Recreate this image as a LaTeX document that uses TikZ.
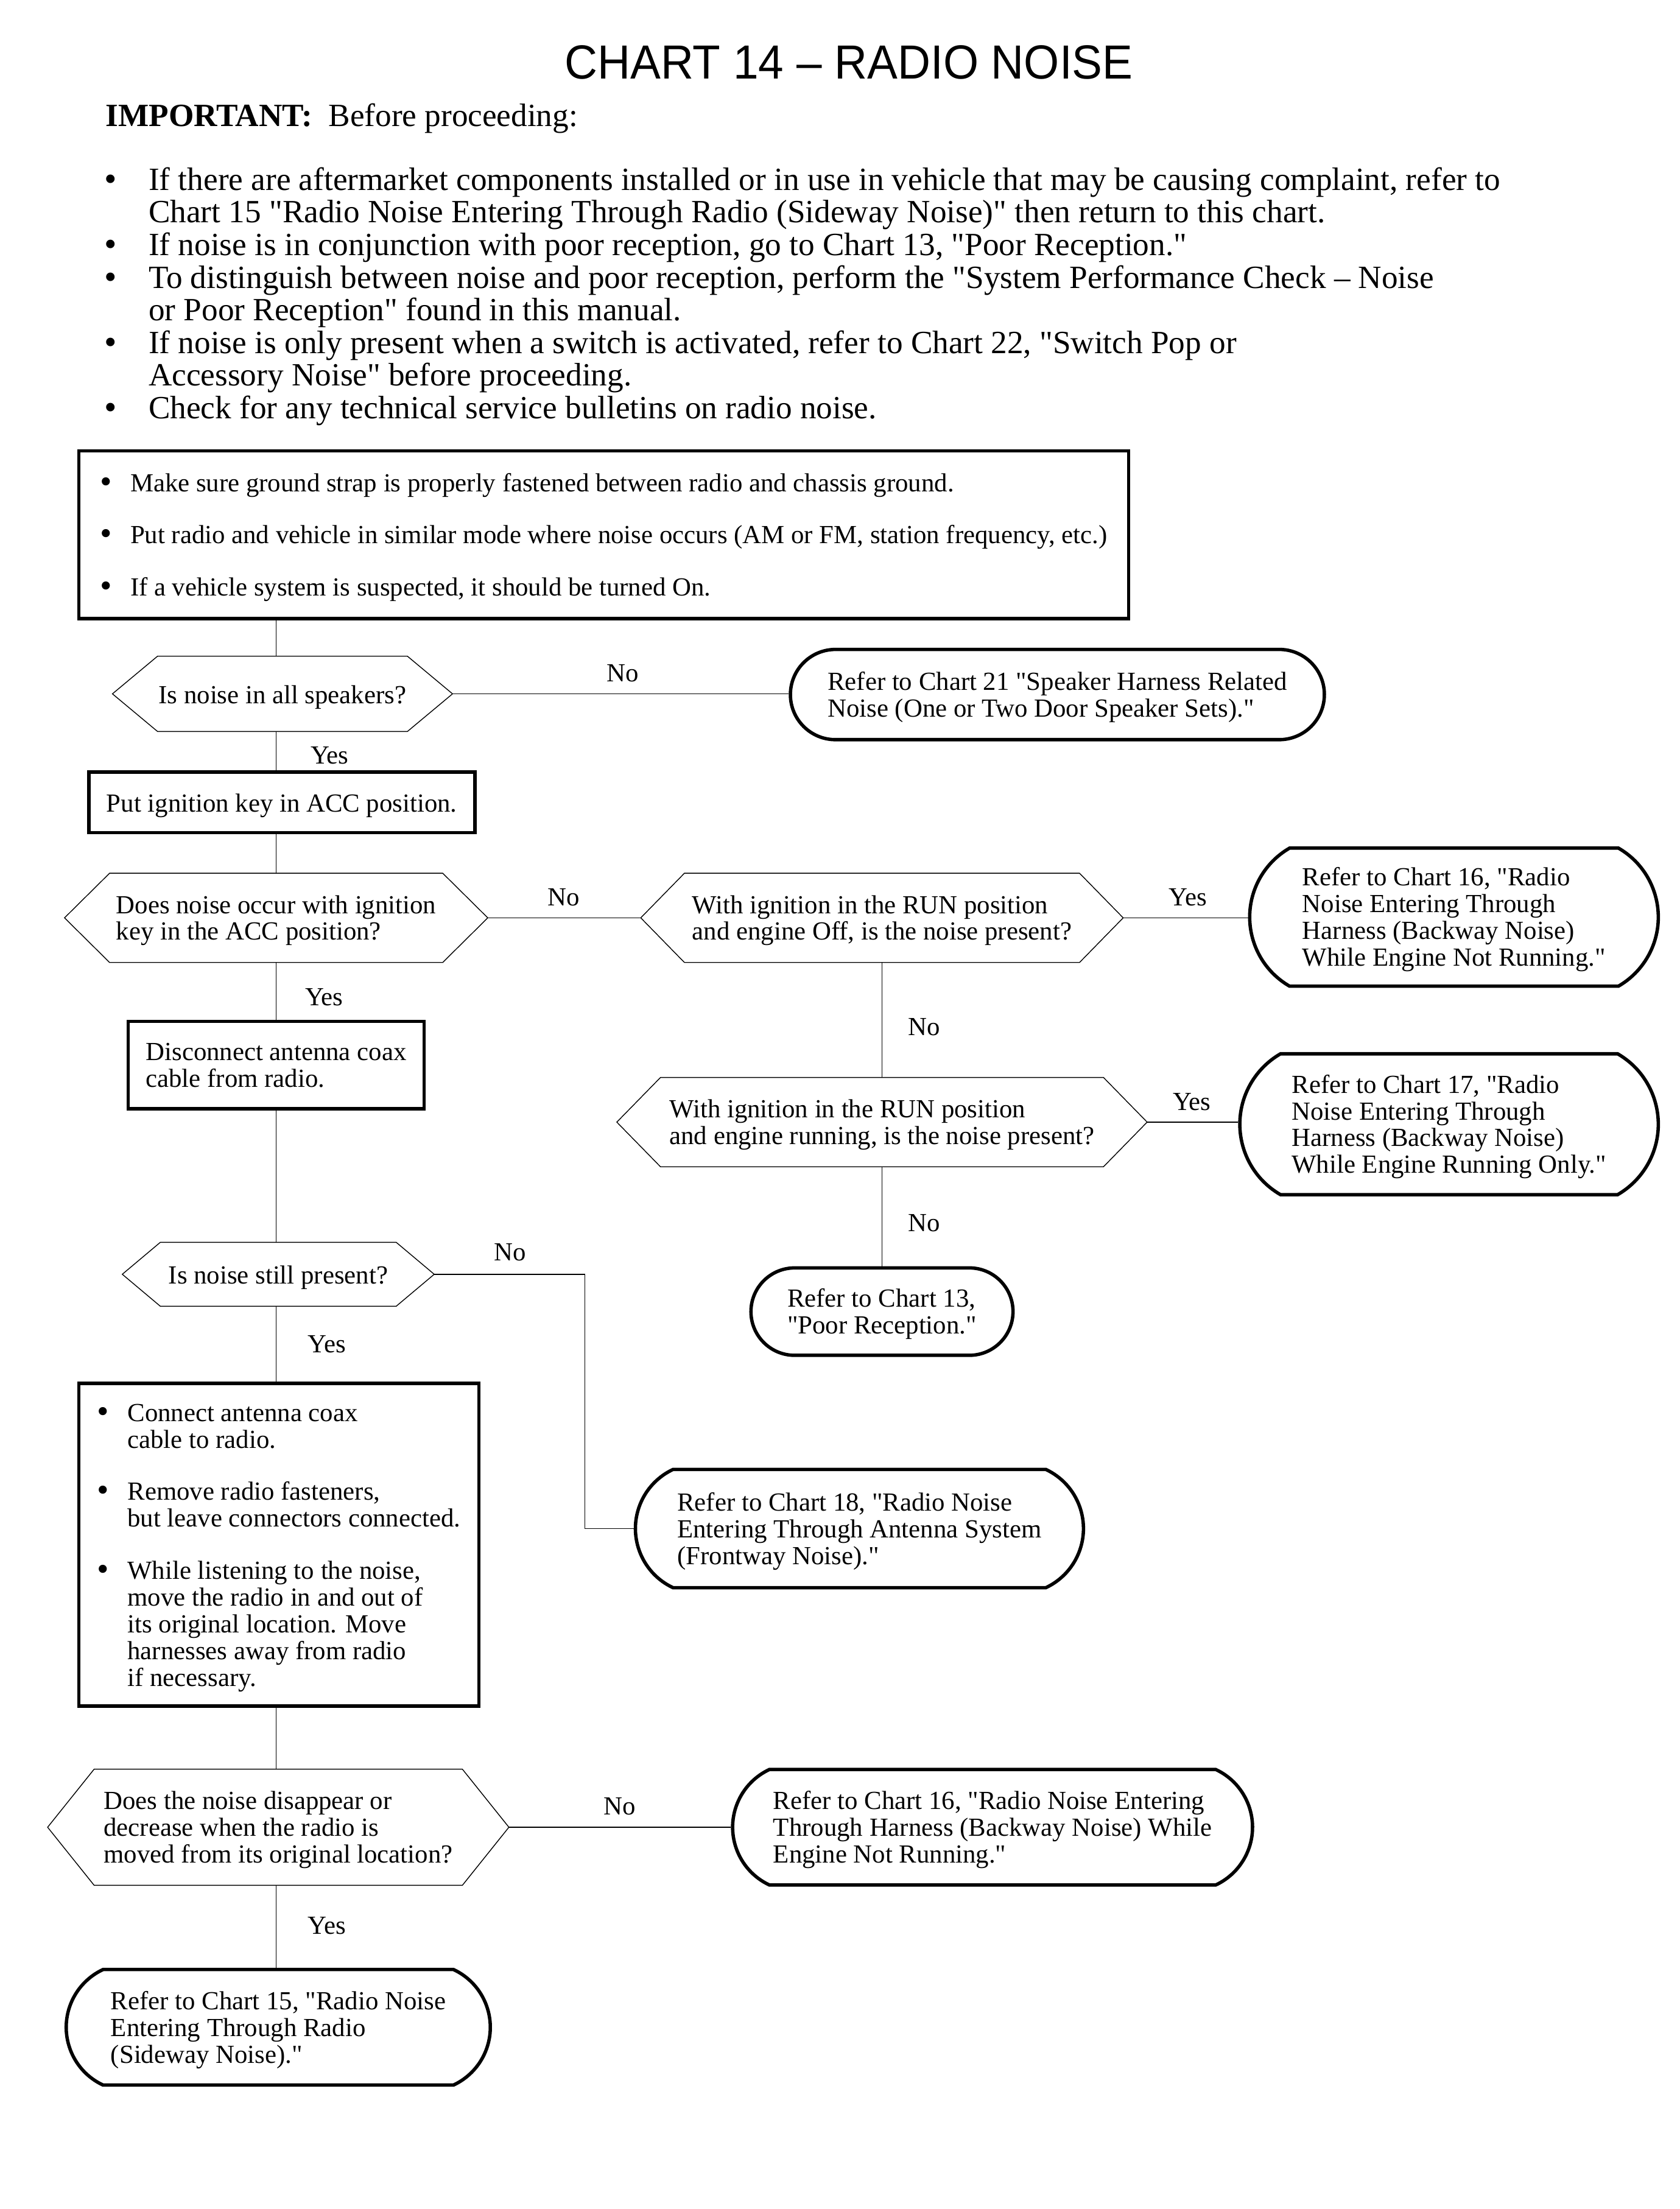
\documentclass[tikz,border=0pt]{standalone}
\usepackage{fontspec}
\usepackage{graphicx}
\setmainfont{Liberation Serif}[Ligatures=TeXOff]
\newfontfamily\titlefont{Liberation Sans}
\usetikzlibrary{shapes.misc}
\newcommand\bodyfont{\fontsize{23}{23.15}\selectfont}
\newcommand\boxfont{\fontsize{18.5}{19}\selectfont}
\newcommand\bul{\raisebox{-0.05em}{\scalebox{1.3}{\textbullet}}}
\newcommand\bulh{\raisebox{-0.02em}{\scalebox{1.1}{\textbullet}}}
\newcommand\dn[1]{\raisebox{-2.5pt}[\height][\depth]{#1}}
\newcommand\tl[1]{\dn{\begin{tabular}{@{}l@{}}#1\end{tabular}}}
\newcommand\hexframe[2]{\draw[conn] (#1.west) -- ([xshift=#2]#1.north west) -- ([xshift=-#2]#1.north east) -- (#1.east) -- ([xshift=-#2]#1.south east) -- ([xshift=#2]#1.south west) -- cycle;}
\begin{document}
\begin{tikzpicture}[x=1pt,y=-1pt,
  conn/.style={line width=0.6pt},
  boxfr/.style={draw, line width=2.4pt, rectangle, inner sep=0pt, font=\boxfont},
  term/.style={draw, line width=2.4pt, rounded rectangle, rounded rectangle arc length=#1, inner sep=0pt, font=\boxfont},
  term/.default=130,
  hexn/.style={rectangle, inner sep=0pt, font=\boxfont},
  lbl/.style={inner sep=0pt, font=\boxfont},
]
\fill[white] (0,0) rectangle (1192,1568);
\useasboundingbox (0,0) rectangle (1192,1568);

% header
\node[anchor=base, inner sep=0pt, font=\titlefont\fontsize{34}{36}\selectfont] (title) at (602.5,56) {\scalebox{0.95}[1]{CHART 14 – RADIO NOISE}};
\node[anchor=base west, inner sep=0pt, font=\bodyfont] (imp) at (75,89.5) {\textbf{IMPORTANT:}\ \ Before proceeding:};
\node[anchor=base west, inner sep=0pt, font=\bodyfont] (intro) at (74,135) {\begin{tabular}[t]{@{}l@{\hspace{22.5pt}}l@{}}
\bulh & If there are aftermarket components installed or in use in vehicle that may be causing complaint, refer to\\
 & Chart 15 "Radio Noise Entering Through Radio (Sideway Noise)" then return to this chart.\\
\bulh & If noise is in conjunction with poor reception, go to Chart 13, "Poor Reception."\\
\bulh & To distinguish between noise and poor reception, perform the "System Performance Check – Noise\\
 & or Poor Reception" found in this manual.\\
\bulh & If noise is only present when a switch is activated, refer to Chart 22, "Switch Pop or\\
 & Accessory Noise" before proceeding.\\
\bulh & Check for any technical service bulletins on radio noise.
\end{tabular}};

% column coordinates
\coordinate (cL) at (196,0);
\coordinate (cR) at (626,0);
\coordinate (bx) at (415,0);

% nodes
\node[boxfr, minimum width=745, minimum height=119] (top) at (428.5,379.5) {\dn{\begin{tabular}{@{}l@{\hspace{13pt}}l@{}}
\bul & Make sure ground strap is properly fastened between radio and chassis ground.\\[18pt]
\bul & Put radio and vehicle in similar mode where noise occurs (AM or FM, station frequency, etc.)\\[18pt]
\bul & If a vehicle system is suspected, it should be turned On.
\end{tabular}}};

\node[hexn, minimum width=241, minimum height=53] (h1) at (200.5,492.5) {\dn{Is noise in all speakers?}};
\hexframe{h1}{32}
\node[term=175, minimum width=379, minimum height=64] (t21) at (750.5,493) {\tl{Refer to Chart 21 "Speaker Harness Related\\Noise (One or Two Door Speaker Sets)."}};

\node[boxfr, minimum width=274, minimum height=43] (b1) at (200,569.5) {\dn{Put ignition key in ACC position.}};

\node[hexn, minimum width=300, minimum height=63] (h2) at (196,651.5) {\tl{Does noise occur with ignition\\key in the ACC position?}};
\hexframe{h2}{32}
\node[hexn, minimum width=342, minimum height=63] (h3) at (626,651.5) {\tl{With ignition in the RUN position\\and engine Off, is the noise present?}};
\hexframe{h3}{31}
\node[term=120, minimum width=290, minimum height=98] (t16a) at (1032,651) {\tl{Refer to Chart 16, "Radio\\Noise Entering Through\\Harness (Backway Noise)\\While Engine Not Running."}};

\node[hexn, minimum width=376, minimum height=63] (h4) at (626,796.5) {\tl{With ignition in the RUN position\\and engine running, is the noise present?}};
\hexframe{h4}{31}
\node[term=120, minimum width=297, minimum height=100] (t17) at (1028.5,798) {\tl{Refer to Chart 17, "Radio\\Noise Entering Through\\Harness (Backway Noise)\\While Engine Running Only."}};
\node[term=175, minimum width=186, minimum height=62] (t13) at (626,931) {\tl{Refer to Chart 13,\\"Poor Reception."}};

\node[boxfr, minimum width=210, minimum height=62] (b2) at (196,756) {\tl{Disconnect antenna coax\\cable from radio.}};
\node[hexn, minimum width=221, minimum height=45] (h5) at (197.5,904.5) {\dn{Is noise still present?}};
\hexframe{h5}{27}
\node[term, minimum width=318, minimum height=84] (t18) at (610,1085) {\tl{Refer to Chart 18, "Radio Noise\\Entering Through Antenna System\\(Frontway Noise)."}};

\node[boxfr, minimum width=284, minimum height=229] (b3) at (198,1096.5) {\dn{\begin{tabular}{@{}l@{\hspace{13pt}}l@{}}
\bul & Connect antenna coax\\
 & cable to radio.\\[18pt]
\bul & Remove radio fasteners,\\
 & but leave connectors connected.\\[18pt]
\bul & While listening to the noise,\\
 & move the radio in and out of\\
 & its original location. Move\\
 & harnesses away from radio\\
 & if necessary.
\end{tabular}}};

\node[hexn, minimum width=327, minimum height=82] (h6) at (197.5,1297) {\tl{Does the noise disappear or\\decrease when the radio is\\moved from its original location?}};
\hexframe{h6}{33}
\node[term, minimum width=369, minimum height=82] (t16b) at (704.5,1297) {\tl{Refer to Chart 16, "Radio Noise Entering\\Through Harness (Backway Noise) While\\Engine Not Running."}};
\node[term, minimum width=301, minimum height=82] (t15) at (197.5,1439) {\tl{Refer to Chart 15, "Radio Noise\\Entering Through Radio\\(Sideway Noise)."}};

% connectors
\draw[conn] (top.south -| cL) -- (h1.north -| cL);
\draw[conn] (h1.east) -- (h1.east -| t21.west);
\draw[conn] (h1.south -| cL) -- (b1.north -| cL);
\draw[conn] (b1.south -| cL) -- (h2.north -| cL);
\draw[conn] (h2.east) -- (h3.west);
\draw[conn] (h3.east) -- (h3.east -| t16a.west);
\draw[conn] (h3.south -| cR) -- (h4.north -| cR);
\draw[conn] (h4.east) -- (h4.east -| t17.west);
\draw[conn] (h4.south -| cR) -- (t13.north -| cR);
\draw[conn] (h2.south -| cL) -- (b2.north -| cL);
\draw[conn] (b2.south -| cL) -- (h5.north -| cL);
\draw[conn] (h5.east) -| (bx |- t18.west) -- (t18.west);
\draw[conn] (h5.south -| cL) -- (b3.north -| cL);
\draw[conn] (b3.south -| cL) -- (h6.north -| cL);
\draw[conn] (h6.east) -- (t16b.west);
\draw[conn] (h6.south -| cL) -- (t15.north -| cL);

% labels
\node[lbl] (l1) at (442,478) {No};
\node[lbl] (l2) at (234,536) {Yes};
\node[lbl] (l3) at (400,637) {No};
\node[lbl] (l4) at (843,637) {Yes};
\node[lbl] (l5) at (230,708) {Yes};
\node[lbl] (l6) at (656,729) {No};
\node[lbl] (l7) at (846,782) {Yes};
\node[lbl] (l8) at (656,868) {No};
\node[lbl] (l9) at (362,889) {No};
\node[lbl] (l10) at (232,954) {Yes};
\node[lbl] (l11) at (440,1282) {No};
\node[lbl] (l12) at (232,1367) {Yes};
\end{tikzpicture}
\end{document}
